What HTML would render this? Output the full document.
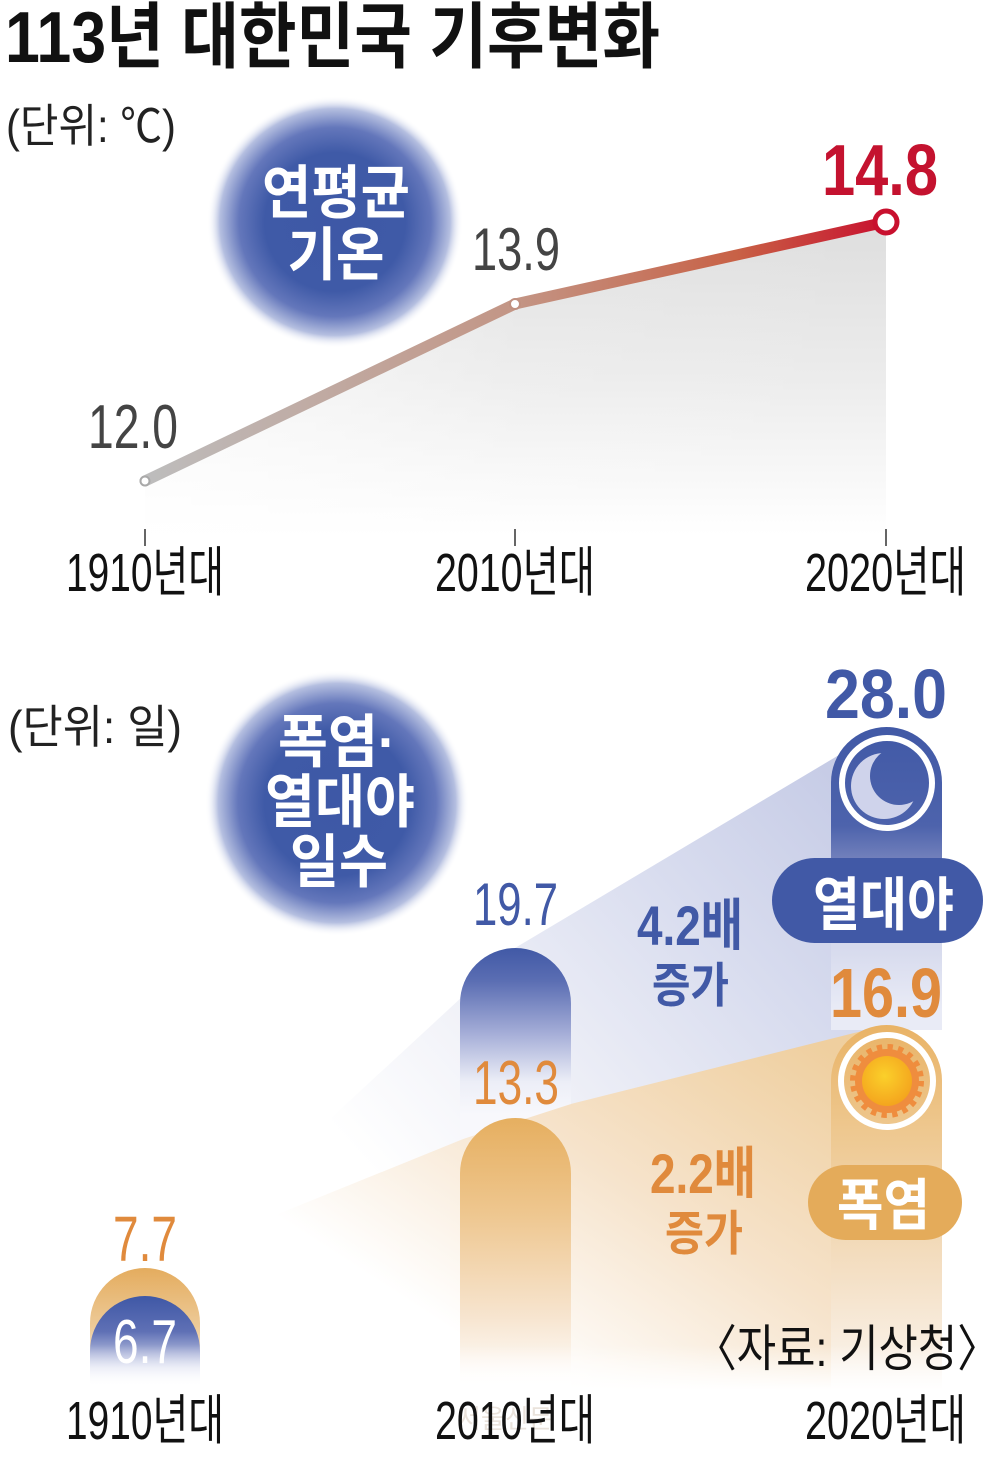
<!DOCTYPE html>
<html><head><meta charset="utf-8">
<style>
html,body{margin:0;padding:0;background:#fff;}
svg{display:block;}
</style></head>
<body>
<svg width="1000" height="1459" viewBox="0 0 1000 1459" xmlns="http://www.w3.org/2000/svg" font-family="'Liberation Sans','Noto Sans CJK KR',sans-serif">
<defs>
  <radialGradient id="blob" cx="0.5" cy="0.5" r="0.5">
    <stop offset="0" stop-color="#3e58a6"/>
    <stop offset="0.55" stop-color="#3f5aa7"/>
    <stop offset="0.75" stop-color="#6477bb"/>
    <stop offset="0.9" stop-color="#b5bfe0"/>
    <stop offset="1" stop-color="#ffffff" stop-opacity="0"/>
  </radialGradient>
  <linearGradient id="lineG" gradientUnits="userSpaceOnUse" x1="145" y1="0" x2="886" y2="0">
    <stop offset="0" stop-color="#bdbdbd"/>
    <stop offset="0.5" stop-color="#c39585"/>
    <stop offset="0.8" stop-color="#c86146"/>
    <stop offset="1" stop-color="#c8102e"/>
  </linearGradient>
  <linearGradient id="areaG" gradientUnits="userSpaceOnUse" x1="0" y1="222" x2="0" y2="535">
    <stop offset="0" stop-color="#dedede"/>
    <stop offset="0.5" stop-color="#ececec"/>
    <stop offset="1" stop-color="#ffffff"/>
  </linearGradient>
  <linearGradient id="areaH" gradientUnits="userSpaceOnUse" x1="145" y1="0" x2="886" y2="0">
    <stop offset="0" stop-color="#ffffff" stop-opacity="0.7"/>
    <stop offset="0.5" stop-color="#ffffff" stop-opacity="0.1"/>
    <stop offset="1" stop-color="#ffffff" stop-opacity="0"/>
  </linearGradient>
  <linearGradient id="blueFan" gradientUnits="userSpaceOnUse" x1="886" y1="727" x2="380" y2="1180">
    <stop offset="0" stop-color="#c0c6e3"/>
    <stop offset="0.4" stop-color="#d9ddef"/>
    <stop offset="0.75" stop-color="#f1f2f8"/>
    <stop offset="1" stop-color="#ffffff"/>
  </linearGradient>
  <linearGradient id="orFan" gradientUnits="userSpaceOnUse" x1="800" y1="1030" x2="560" y2="1400">
    <stop offset="0" stop-color="#efcf9f"/>
    <stop offset="0.5" stop-color="#f6e3cb"/>
    <stop offset="1" stop-color="#ffffff"/>
  </linearGradient>
  <linearGradient id="b2010" gradientUnits="userSpaceOnUse" x1="0" y1="948" x2="0" y2="1115">
    <stop offset="0" stop-color="#4159a6"/>
    <stop offset="0.2" stop-color="#5b6eb3"/>
    <stop offset="0.5" stop-color="#a2abd6"/>
    <stop offset="0.8" stop-color="#eceef7"/>
    <stop offset="1" stop-color="#f8f8fc"/>
  </linearGradient>
  <linearGradient id="o2010" gradientUnits="userSpaceOnUse" x1="0" y1="1118" x2="0" y2="1385">
    <stop offset="0" stop-color="#e6af60"/>
    <stop offset="0.35" stop-color="#eec68e"/>
    <stop offset="0.75" stop-color="#f7e5d0"/>
    <stop offset="1" stop-color="#ffffff"/>
  </linearGradient>
  <linearGradient id="b2020" gradientUnits="userSpaceOnUse" x1="0" y1="727" x2="0" y2="1010">
    <stop offset="0" stop-color="#4159a6"/>
    <stop offset="0.35" stop-color="#4d63ac"/>
    <stop offset="0.5" stop-color="#7d89c0"/>
    <stop offset="0.75" stop-color="#d4d8ec"/>
    <stop offset="1" stop-color="#e9ebf6"/>
  </linearGradient>
  <linearGradient id="o2020" gradientUnits="userSpaceOnUse" x1="0" y1="1025" x2="0" y2="1385">
    <stop offset="0" stop-color="#e9b366"/>
    <stop offset="0.3" stop-color="#eec890"/>
    <stop offset="0.7" stop-color="#f4e0c6"/>
    <stop offset="1" stop-color="#fbf6f0"/>
  </linearGradient>
  <linearGradient id="o1910" gradientUnits="userSpaceOnUse" x1="0" y1="1268" x2="0" y2="1385">
    <stop offset="0" stop-color="#e4ac5e"/>
    <stop offset="0.5" stop-color="#edca98"/>
    <stop offset="1" stop-color="#ffffff"/>
  </linearGradient>
  <linearGradient id="b1910" gradientUnits="userSpaceOnUse" x1="0" y1="1296" x2="0" y2="1385">
    <stop offset="0" stop-color="#3f58a6"/>
    <stop offset="0.4" stop-color="#5f70b5"/>
    <stop offset="0.8" stop-color="#d8dcef"/>
    <stop offset="1" stop-color="#ffffff"/>
  </linearGradient>
  <linearGradient id="fadeBot" x1="0" y1="0" x2="0" y2="1">
    <stop offset="0" stop-color="#ffffff" stop-opacity="0"/>
    <stop offset="1" stop-color="#ffffff" stop-opacity="1"/>
  </linearGradient>
  <radialGradient id="sunCore" cx="0.45" cy="0.4" r="0.6">
    <stop offset="0" stop-color="#fbd02a"/>
    <stop offset="1" stop-color="#f4a51e"/>
  </radialGradient>
  <mask id="moonMask">
    <rect x="800" y="700" width="200" height="200" fill="#000"/>
    <circle cx="884" cy="786" r="33" fill="#fff"/>
    <circle cx="899" cy="776" r="29" fill="#000"/>
  </mask>
</defs>

<!-- Title -->
<text x="5" y="62" font-size="72" font-weight="bold" fill="#111" textLength="655" lengthAdjust="spacingAndGlyphs">113년 대한민국 기후변화</text>

<!-- Top chart -->
<text x="6" y="142" font-size="46" fill="#222" textLength="170" lengthAdjust="spacingAndGlyphs">(단위: ℃)</text>

<ellipse cx="335" cy="222" rx="128" ry="126" fill="url(#blob)"/>
<text x="336" y="213" font-size="58" font-weight="bold" fill="#fff" text-anchor="middle" textLength="148" lengthAdjust="spacingAndGlyphs">연평균</text>
<text x="336" y="275" font-size="58" font-weight="bold" fill="#fff" text-anchor="middle" textLength="97" lengthAdjust="spacingAndGlyphs">기온</text>

<polygon points="145,481 515,304 886,222 886,535 145,535" fill="url(#areaG)"/>
<polygon points="145,481 515,304 886,222 886,535 145,535" fill="url(#areaH)"/>
<polyline points="145,481 515,304 886,222" fill="none" stroke="url(#lineG)" stroke-width="11" stroke-linecap="round" stroke-linejoin="round"/>
<circle cx="145" cy="481" r="4.5" fill="#fff" stroke="#a9a9a9" stroke-width="2"/>
<circle cx="515" cy="304" r="5" fill="#fff" stroke="#c09080" stroke-width="2"/>
<circle cx="886" cy="222" r="11" fill="#fff" stroke="#c8102e" stroke-width="5"/>

<text x="472" y="270" font-size="60" fill="#444" textLength="88" lengthAdjust="spacingAndGlyphs">13.9</text>
<text x="88" y="448" font-size="62" fill="#444" textLength="90" lengthAdjust="spacingAndGlyphs">12.0</text>
<text x="822" y="195" font-size="72" font-weight="bold" fill="#c4122f" textLength="116" lengthAdjust="spacingAndGlyphs">14.8</text>

<g stroke="#333" stroke-width="1.5">
  <line x1="145" y1="529" x2="145" y2="546"/>
  <line x1="515" y1="529" x2="515" y2="546"/>
  <line x1="886" y1="529" x2="886" y2="546"/>
</g>
<text x="66" y="591" font-size="54" fill="#111" textLength="158" lengthAdjust="spacingAndGlyphs">1910년대</text>
<text x="435" y="591" font-size="54" fill="#111" textLength="160" lengthAdjust="spacingAndGlyphs">2010년대</text>
<text x="805" y="591" font-size="54" fill="#111" textLength="161" lengthAdjust="spacingAndGlyphs">2020년대</text>

<!-- Bottom chart -->
<text x="8" y="743" font-size="46" fill="#222" textLength="174" lengthAdjust="spacingAndGlyphs">(단위: 일)</text>

<ellipse cx="337" cy="803" rx="132" ry="133" fill="url(#blob)"/>
<text x="337" y="762" font-size="58" font-weight="bold" fill="#fff" text-anchor="middle" textLength="118" lengthAdjust="spacingAndGlyphs">폭염·</text>
<text x="340" y="822" font-size="58" font-weight="bold" fill="#fff" text-anchor="middle" textLength="150" lengthAdjust="spacingAndGlyphs">열대야</text>
<text x="339" y="882" font-size="58" font-weight="bold" fill="#fff" text-anchor="middle" textLength="98" lengthAdjust="spacingAndGlyphs">일수</text>

<!-- fans -->
<polygon points="145,1290 515,948 886,727 886,1390 145,1390" fill="url(#blueFan)"/>
<polygon points="145,1268 515,1118 886,1025 886,1390 145,1390" fill="url(#orFan)"/>

<!-- 2010 bars -->
<path d="M460,1140 V1003.5 A55.5,55.5 0 0 1 571,1003.5 V1104 Z" fill="url(#b2010)"/>
<path d="M460,1390 V1173.5 A55.5,55.5 0 0 1 571,1173.5 V1390 Z" fill="url(#o2010)"/>

<!-- 2020 columns -->
<path d="M831,1030 V782.5 A55.5,55.5 0 0 1 942,782.5 V1030 Z" fill="url(#b2020)"/>
<path d="M831,1390 V1080.5 A55.5,55.5 0 0 1 942,1080.5 V1390 Z" fill="url(#o2020)"/>

<!-- 1910 bars -->
<path d="M90,1390 V1323 A55,55 0 0 1 200,1323 V1390 Z" fill="url(#o1910)"/>
<path d="M90,1390 V1351 A55,55 0 0 1 200,1351 V1390 Z" fill="url(#b1910)"/>

<rect x="0" y="1345" width="1000" height="45" fill="url(#fadeBot)"/>

<!-- moon icon -->
<circle cx="887" cy="783" r="45" fill="none" stroke="#fff" stroke-width="6"/>
<rect x="800" y="700" width="200" height="200" fill="#cfd3eb" mask="url(#moonMask)"/>

<!-- sun icon -->
<circle cx="887" cy="1081" r="46" fill="none" stroke="#fff" stroke-width="6"/>
<circle cx="887" cy="1081" r="32" fill="#ef8d3e"/>
<circle cx="887" cy="1081" r="34" fill="none" stroke="#ef8d3e" stroke-width="6" stroke-dasharray="5.3 5.4"/>
<circle cx="887" cy="1081" r="25" fill="url(#sunCore)"/>

<!-- pills -->
<rect x="772" y="858" width="211" height="85" rx="42.5" fill="#4159a6"/>
<text x="813" y="925" font-size="58" font-weight="bold" fill="#fff" textLength="141" lengthAdjust="spacingAndGlyphs">열대야</text>
<rect x="808" y="1165" width="154" height="75" rx="37.5" fill="#e4ab5a"/>
<text x="837" y="1225" font-size="56" font-weight="bold" fill="#fff" textLength="93" lengthAdjust="spacingAndGlyphs">폭염</text>

<!-- values -->
<text x="825" y="718" font-size="70" font-weight="bold" fill="#4159a6" textLength="122" lengthAdjust="spacingAndGlyphs">28.0</text>
<text x="830" y="1017" font-size="70" font-weight="bold" fill="#e08a3c" textLength="112" lengthAdjust="spacingAndGlyphs">16.9</text>
<text x="473" y="925" font-size="60" fill="#4159a6" textLength="85" lengthAdjust="spacingAndGlyphs">19.7</text>
<text x="473" y="1104" font-size="62" fill="#e08a3c" textLength="86" lengthAdjust="spacingAndGlyphs">13.3</text>
<text x="113" y="1261" font-size="64" fill="#e08a3c" textLength="64" lengthAdjust="spacingAndGlyphs">7.7</text>
<text x="113" y="1363" font-size="62" fill="#fff" textLength="64" lengthAdjust="spacingAndGlyphs">6.7</text>

<text x="637" y="945" font-size="56" font-weight="bold" fill="#4159a6" textLength="106" lengthAdjust="spacingAndGlyphs">4.2배</text>
<text x="652" y="1002" font-size="48" font-weight="bold" fill="#4159a6" textLength="77" lengthAdjust="spacingAndGlyphs">증가</text>
<text x="650" y="1193" font-size="56" font-weight="bold" fill="#e08a3c" textLength="106" lengthAdjust="spacingAndGlyphs">2.2배</text>
<text x="665" y="1250" font-size="48" font-weight="bold" fill="#e08a3c" textLength="78" lengthAdjust="spacingAndGlyphs">증가</text>

<text x="694" y="1366" font-size="50" fill="#111" textLength="306" lengthAdjust="spacingAndGlyphs">〈자료: 기상청〉</text>

<text x="457" y="1428" font-size="26" fill="#e6ddd4" opacity="0.8">서울신문</text>
<text x="66" y="1439" font-size="54" fill="#111" textLength="158" lengthAdjust="spacingAndGlyphs">1910년대</text>
<text x="435" y="1439" font-size="54" fill="#111" textLength="160" lengthAdjust="spacingAndGlyphs">2010년대</text>
<text x="805" y="1439" font-size="54" fill="#111" textLength="161" lengthAdjust="spacingAndGlyphs">2020년대</text>
</svg>
</body></html>
